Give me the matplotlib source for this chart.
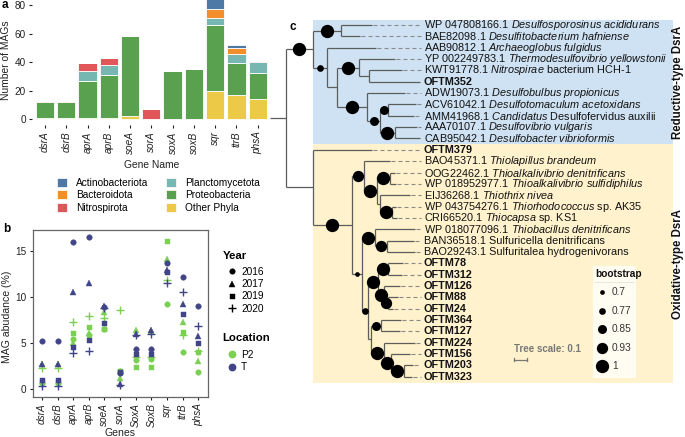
import re
import matplotlib
matplotlib.use("Agg")
import matplotlib.pyplot as plt
from matplotlib.patches import Rectangle, Patch
from matplotlib.lines import Line2D

plt.rcParams["font.family"] = "Liberation Sans"
plt.rcParams["mathtext.fontset"] = "custom"
plt.rcParams["mathtext.rm"] = "Liberation Sans"
plt.rcParams["mathtext.it"] = "Liberation Sans:italic"
plt.rcParams["mathtext.bf"] = "Liberation Sans:bold"

W, H = 685, 437

# ---------------- panel a data: number of MAGs per gene ----------------
genes_a = ["dsrA", "dsrB", "aprA", "aprB", "soeA", "sorA", "soxA", "soxB", "sqr", "ttrB", "phsA"]
n_other = [1, 1, 1, 1, 2, 0, 0, 0, 20, 17, 14]
n_proteo = [11, 11, 26, 30, 56, 0, 34, 35, 46, 22, 18]
n_plancto = [0, 0, 7, 7, 0, 0, 0, 0, 5, 7, 8]
n_nitro = [1, 1, 5, 5, 0, 7, 0, 0, 0, 0, 1]
n_bacter = [0, 0, 0, 0, 0, 0, 0, 0, 6, 4, 0]
n_actino = [0, 0, 0, 0, 0, 0, 0, 0, 7, 2, 0]
phyla = ["Actinobacteriota", "Bacteroidota", "Nitrospirota",
         "Planctomycetota", "Proteobacteria", "Other Phyla"]
phyla_colors = ["#4E79A7", "#F28E2B", "#E15759", "#76B7B2", "#59A14F", "#EDC948"]

# ---------------- panel b data: MAG abundance (%) ----------------
genes_b = ["dsrA", "dsrB", "aprA", "aprB", "soeA", "sorA", "SoxA", "SoxB", "sqr", "ttrB", "phsA"]
years = ["2016", "2017", "2019", "2020"]
p2_2016 = [0.7, 0.7, 5.4, 5.9, 6.5, 2.0, 3.2, 3.3, 9.3, 4.0, 1.9]
p2_2017 = [2.7, 2.7, 5.0, 6.1, 8.4, 1.2, 6.4, 6.3, 14.1, 7.3, 3.1]
p2_2019 = [0.8, 0.8, 6.1, 6.8, 6.5, 2.0, 2.4, 2.4, 16.1, 6.2, 4.0]
p2_2020 = [2.3, 2.3, 7.3, 7.9, 7.7, 8.6, 3.5, 3.5, 11.9, 5.9, 4.1]
t_2016 = [5.25, 5.25, 16.0, 16.5, 8.9, 1.7, 4.3, 4.3, 13.7, 12.2, 9.0]
t_2017 = [2.7, 2.7, 10.6, 11.5, 9.0, 0.5, 6.0, 6.4, 13.0, 9.3, 5.8]
t_2019 = [1.0, 1.0, 4.6, 5.3, 7.2, 1.8, 3.8, 3.8, 12.7, 8.2, 5.0]
t_2020 = [0.3, 0.3, 3.9, 4.1, 8.8, 0.4, 5.9, 6.0, 11.5, 10.6, 6.9]
loc_colors = {"P2": "#7AD151", "T": "#414487"}

# ---------------- panel c data: DsrA tree (bootstrap as node labels) ----------------
newick = ("(((t0:0.233,t1:0.143)1:0.211,(t2:0.365,((t3:0.271,(t4:0.248,t5:0.383):0.075)1:0.165,"
          "(t6:0.282,((t7:0.211,t8:0.195)0.85:0.06,(t9:0.165,t10:0.188)1:0.113)0.85:0.094)1:0.229)"
          ":0.071)0.77:0.109)1:0.203,(t11:0.444,((t12:0.195,((t13:0.038,t14:0.045)1:0.1,"
          "(t15:0.226,(t16:0.032,t17:0.04)1:0.088):0.025)1:0.095)0.93:0.092,((t18:0.3,"
          "(t19:0.2,t20:0.208)0.93:0.092)1:0.1,(((t21:0.11,t22:0.103)1:0.075,(t23:0.12,"
          "(t24:0.073,t25:0.035)0.93:0.032)1:0.043)1:0.075,((t26:0.153,t27:0.145)0.85:0.075,"
          "(t28:0.233,(t29:0.145,(t30:0.068,t31:0.06)1:0.1)1:0.05)1:0.1):0.018)0.77:0.05)"
          "0.7:0.075)1:0.291):0.203);")
tip_labels = [
    "WP 047808166.1 *Desulfosporosinus acididurans*",
    "BAE82098.1 *Desulfitobacterium hafniense*",
    "AAB90812.1 *Archaeoglobus fulgidus*",
    "YP 002249783.1 *Thermodesulfovibrio yellowstonii*",
    "KWT91778.1 *Nitrospirae* bacterium HCH-1",
    "OFTM352",
    "ADW19073.1 *Desulfobulbus propionicus*",
    "ACV61042.1 *Desulfotomaculum acetoxidans*",
    "AMM41968.1 *Candidatus* Desulfofervidus auxilii",
    "AAA70107.1 *Desulfovibrio vulgaris*",
    "CAB95042.1 *Desulfobacter vibrioformis*",
    "OFTM379",
    "BAO45371.1 *Thiolapillus brandeum*",
    "OOG22462.1 *Thioalkalivibrio denitrificans*",
    "WP 018952977.1 *Thioalkalivibrio sulfidiphilus*",
    "EIJ36268.1 *Thiothrix nivea*",
    "WP 043754276.1 *Thiorhodococcus* sp. AK35",
    "CRI66520.1 *Thiocapsa* sp. KS1",
    "WP 018077096.1 *Thiobacillus denitrificans*",
    "BAN36518.1 Sulfuricella denitrificans",
    "BAO29243.1 Sulfuritalea hydrogenivorans",
    "OFTM78", "OFTM312", "OFTM126", "OFTM88", "OFTM24", "OFTM364",
    "OFTM127", "OFTM224", "OFTM156", "OFTM203", "OFTM323",
]
n_reductive = 11
bootstrap_legend = [0.7, 0.77, 0.85, 0.93, 1]


def px_box(l, t, r, b):
    return [l / W, 1 - b / H, (r - l) / W, (b - t) / H]


fig = plt.figure(figsize=(W / 100, H / 100), dpi=100)
dark = "#222222"

# ================= panel a =================
ax_a = fig.add_axes(px_box(32.2, 0, 270.5, 125))
xa = range(len(genes_a))
stack = [n_other, n_proteo, n_plancto, n_nitro, n_bacter, n_actino]
stack_colors = phyla_colors[::-1]
bottom = [0] * len(genes_a)
for vals, col in zip(stack, stack_colors):
    ax_a.bar(xa, vals, bottom=bottom, width=0.86, color=col, edgecolor="white", linewidth=0.6)
    bottom = [b + v for b, v in zip(bottom, vals)]
ax_a.set_xlim(-0.6, len(genes_a) - 0.4)
ax_a.set_ylim(-4.2, 83.6)
ax_a.set_yticks([0, 20, 40, 60, 80])
ax_a.set_xticks(list(xa))
ax_a.set_xticklabels(genes_a, rotation=90, fontstyle="italic")
for s in ax_a.spines.values():
    s.set_visible(False)
ax_a.tick_params(length=2.5, width=0.8, color=dark, labelsize=7.2, labelcolor=dark, pad=2)
ax_a.set_ylabel("Number of MAGs", fontsize=7.4, color=dark)
ax_a.yaxis.set_label_coords(-0.112, 0.52)
ax_a.yaxis.label.set_va("center")
ax_a.set_xlabel("Gene Name", fontsize=7.4, color=dark)
ax_a.xaxis.set_label_coords(0.5, -0.32)
ax_a.xaxis.label.set_va("center")

handles_a = [Patch(facecolor=c, edgecolor="white", linewidth=0.5) for c in phyla_colors]
fig.legend(handles_a, phyla, loc="upper left", bbox_to_anchor=(57 / W, 1 - 177.5 / H),
           ncol=2, frameon=False, fontsize=7.3, handlelength=1.0, handleheight=1.0,
           handletextpad=0.9, columnspacing=1.7, labelspacing=0.26, borderpad=0,
           borderaxespad=0)

# ================= panel b =================
ax_b = fig.add_axes(px_box(32.5, 230, 207.5, 397))
xb = list(range(1, len(genes_b) + 1))
markers = {"2016": ("o", 4.0), "2017": ("^", 4.6), "2019": ("s", 3.6), "2020": ("+", 6.4)}
series = [("P2", "2016", p2_2016), ("P2", "2017", p2_2017), ("P2", "2019", p2_2019),
          ("P2", "2020", p2_2020), ("T", "2016", t_2016), ("T", "2017", t_2017),
          ("T", "2019", t_2019), ("T", "2020", t_2020)]
for loc, yr, vals in series:
    m, ms = markers[yr]
    ax_b.plot(xb, vals, linestyle="none", marker=m, markersize=ms, color=loc_colors[loc],
              markeredgewidth=1.0 if m == "+" else 0.3)
ax_b.set_xlim(0.4, len(genes_b) + 0.6)
ax_b.set_ylim(-0.87, 17.3)
ax_b.set_yticks([0, 5, 10, 15])
ax_b.set_xticks(xb)
ax_b.set_xticklabels(genes_b, rotation=90, fontstyle="italic")
for s in ax_b.spines.values():
    s.set_color("#666666")
    s.set_linewidth(0.9)
ax_b.tick_params(length=2.5, width=0.8, color=dark, labelsize=7.2, labelcolor=dark, pad=2)
ax_b.set_ylabel("MAG abudance (%)", fontsize=7.6, color=dark)
ax_b.yaxis.set_label_coords(-0.146, 0.48)
ax_b.yaxis.label.set_va("center")
ax_b.set_xlabel("Genes", fontsize=7.6, color=dark)
ax_b.xaxis.set_label_coords(0.5, -0.216)
ax_b.xaxis.label.set_va("center")

leg_kw = dict(loc="upper left", frameon=False, fontsize=7.3, handlelength=1.5,
              handletextpad=0.2, labelspacing=0.22, borderpad=0, borderaxespad=0)
year_handles = [Line2D([], [], linestyle="none", marker=markers[y][0], markersize=markers[y][1],
                       color="black", markeredgewidth=1.0 if y == "2020" else 0.3) for y in years]
fig.text(222.5 / W, 1 - 256 / H, "Year", fontsize=8.2, fontweight="bold", va="center")
fig.legend(year_handles, years, bbox_to_anchor=(224 / W, 1 - 267 / H), **leg_kw)
loc_handles = [Line2D([], [], linestyle="none", marker="o", markersize=4.6, color=loc_colors[k])
               for k in ["P2", "T"]]
fig.text(222.5 / W, 1 - 338 / H, "Location", fontsize=8.2, fontweight="bold", va="center")
fig.legend(loc_handles, ["P2", "T"], bbox_to_anchor=(224 / W, 1 - 350 / H), **leg_kw)

# ================= panel c: tree =================
ROOT_PX, PX_PER_UNIT, TIP0_PX, TIP_STEP = 286, 133.0, 25, 11.35


def tx(px):
    return (px - ROOT_PX) / PX_PER_UNIT


def ty(py):
    return (py - TIP0_PX) / TIP_STEP


ax_c = fig.add_axes(px_box(262, 0, 685, 437))
ax_c.set_xlim(tx(262), tx(685))
ax_c.set_ylim(ty(437), ty(0))
ax_c.axis("off")


def parse_newick(s):
    s = s.strip().rstrip(";")
    pos = 0

    def node():
        nonlocal pos
        n = {"children": [], "name": "", "length": 0.0}
        if s[pos] == "(":
            pos += 1
            n["children"].append(node())
            while s[pos] == ",":
                pos += 1
                n["children"].append(node())
            pos += 1
        name = re.match(r"[^:,()]*", s[pos:]).group(0)
        n["name"] = name
        pos += len(name)
        if pos < len(s) and s[pos] == ":":
            m = re.match(r":([0-9.]+)", s[pos:])
            n["length"] = float(m.group(1))
            pos += len(m.group(0))
        return n

    return node()


tree = parse_newick(newick)
tips = []


def layout(n, depth):
    n["x"] = depth + n["length"]
    if not n["children"]:
        n["y"] = len(tips)
        tips.append(n)
    else:
        for c in n["children"]:
            layout(c, n["x"])
        n["y"] = (n["children"][0]["y"] + n["children"][-1]["y"]) / 2


layout(tree, 0.0)

# clade shading
split = n_reductive - 0.5
ax_c.add_patch(Rectangle((tx(313), -0.45), tx(673) - tx(313), split + 0.45,
                         facecolor="#CFE2F3", edgecolor="none", zorder=0))
ax_c.add_patch(Rectangle((tx(313), split), tx(673) - tx(313), len(tips) - 0.45 - split,
                         facecolor="#FFF2CC", edgecolor="none", zorder=0))

line_kw = dict(color="#5c5c5c", linewidth=0.9, solid_capstyle="butt", zorder=2)


def bsize(b):
    d_px = 4.7 + (b - 0.7) / 0.3 * 8.6
    return (d_px * 0.72) ** 2


def draw(n, parent_x):
    ax_c.plot([parent_x, n["x"]], [n["y"], n["y"]], **line_kw)
    if n["children"]:
        ax_c.plot([n["x"], n["x"]], [n["children"][0]["y"], n["children"][-1]["y"]], **line_kw)
        for c in n["children"]:
            draw(c, n["x"])
        if n["name"]:
            ax_c.scatter([(parent_x + n["x"]) / 2], [n["y"]], s=bsize(float(n["name"])),
                         color="black", linewidths=0, zorder=4)


ax_c.plot([tx(270), 0], [tree["y"], tree["y"]], **line_kw)
ax_c.plot([0, 0], [tree["children"][0]["y"], tree["children"][-1]["y"]], **line_kw)
for c in tree["children"]:
    draw(c, 0.0)


def to_mathtext(label):
    parts = label.split("*")
    out = ""
    for i, p in enumerate(parts):
        if i % 2 == 1:
            out += r"$\mathit{" + p.replace(" ", r"\ ") + "}$"
        else:
            out += p
    return out


label_x = tx(424)
for t in tips:
    idx = int(t["name"][1:])
    lab = tip_labels[idx]
    if t["x"] < tx(419):
        ax_c.plot([t["x"] + 0.01, tx(421)], [t["y"], t["y"]], color="#8a8a8a", linewidth=0.8,
                  dashes=(3.6, 2.7), zorder=1)
    ax_c.text(label_x, t["y"], to_mathtext(lab), fontsize=7.8, va="center", ha="left",
              color="#111111", fontweight="bold" if lab.startswith("OFTM") else "normal")

ax_c.text(tx(678), (split - 0.45) / 2, "Reductive-type DsrA", rotation=90, fontsize=8.3,
          fontweight="bold", ha="center", va="center", color="#111111")
ax_c.text(tx(678), (split + len(tips) - 0.45) / 2, "Oxidative-type DsrA", rotation=90,
          fontsize=8.3, fontweight="bold", ha="center", va="center", color="#111111")

# tree scale
ax_c.text(tx(514), ty(349), "Tree scale: 0.1", fontsize=7.0, fontweight="bold",
          color="#777777", ha="left", va="center")
ax_c.plot([tx(514), tx(514) + 0.1], [ty(360), ty(360)], color="#777777", linewidth=0.9)
for xe in [tx(514), tx(514) + 0.1]:
    ax_c.plot([xe, xe], [ty(358.5), ty(361.5)], color="#777777", linewidth=0.9)

# bootstrap legend
ax_c.add_patch(Rectangle((tx(593), ty(266)), tx(636) - tx(593), ty(378) - ty(266),
                         facecolor="#FFFCF2", edgecolor="none", zorder=3))
ax_c.text(tx(595), ty(274), "bootstrap", fontsize=7.3, fontweight="bold", ha="left",
          va="center", color="#111111", zorder=5)
ax_c.plot([tx(595), tx(634)], [ty(282), ty(282)], color="#e6e2d6", linewidth=0.6, zorder=4)
for k, b in enumerate(bootstrap_legend):
    yy = ty(292.5 + 18.4 * k)
    ax_c.scatter([tx(602)], [yy], s=bsize(b), color="black", linewidths=0, zorder=5)
    ax_c.text(tx(612), yy, f"{b:g}", fontsize=7.3, ha="left", va="center", color="#333333",
              zorder=5)

# panel labels
fig.text(2 / W, 1 - 5 / H, "a", fontsize=8.5, fontweight="bold", va="center")
fig.text(3 / W, 1 - 229 / H, "b", fontsize=8.5, fontweight="bold", va="center")
fig.text(289 / W, 1 - 27 / H, "c", fontsize=8.5, fontweight="bold", va="center")

fig.savefig("out.png", dpi=100)
